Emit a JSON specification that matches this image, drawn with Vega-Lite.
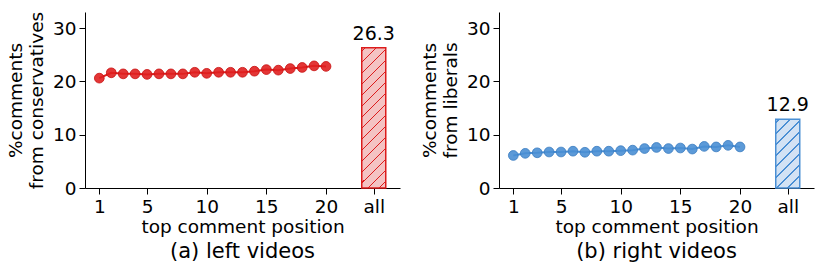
{
  "$schema": "https://vega.github.io/schema/vega-lite/v6.json",
  "autosize": {"type": "pad"},
  "padding": {"left": 6, "top": 11, "right": 5, "bottom": 0},
  "background": "white",
  "bounds": "flush",
  "spacing": 99,
  "config": {
    "font": "DejaVu Sans",
    "view": {"stroke": null},
    "axis": {
      "grid": false,
      "domainColor": "#000000",
      "tickColor": "#000000",
      "labelColor": "#000000",
      "titleColor": "#000000",
      "labelFont": "DejaVu Sans",
      "titleFont": "DejaVu Sans",
      "labelFontSize": 18.5,
      "titleFontSize": 18.5,
      "titleFontWeight": "normal",
      "tickSize": 6,
      "tickWidth": 1,
      "domainWidth": 1,
      "labelPadding": 3
    },
    "axisX": {"titlePadding": 2, "labelAngle": 0},
    "axisY": {"titlePadding": 6, "titleLineHeight": 21},
    "title": {"fontSize": 21, "fontWeight": "normal", "color": "#000000", "orient": "bottom", "offset": 5, "font": "DejaVu Sans"}
  },
  "hconcat": [
    {
      "width": 315,
      "height": 176,
      "title": {"text": "(a) left videos"},
      "data": {"values": [
        {"pos": 1, "value": 20.6, "series": "top"},
        {"pos": 2, "value": 21.6, "series": "top"},
        {"pos": 3, "value": 21.4, "series": "top"},
        {"pos": 4, "value": 21.4, "series": "top"},
        {"pos": 5, "value": 21.3, "series": "top"},
        {"pos": 6, "value": 21.4, "series": "top"},
        {"pos": 7, "value": 21.4, "series": "top"},
        {"pos": 8, "value": 21.4, "series": "top"},
        {"pos": 9, "value": 21.7, "series": "top"},
        {"pos": 10, "value": 21.5, "series": "top"},
        {"pos": 11, "value": 21.7, "series": "top"},
        {"pos": 12, "value": 21.7, "series": "top"},
        {"pos": 13, "value": 21.7, "series": "top"},
        {"pos": 14, "value": 21.9, "series": "top"},
        {"pos": 15, "value": 22.2, "series": "top"},
        {"pos": 16, "value": 22.1, "series": "top"},
        {"pos": 17, "value": 22.4, "series": "top"},
        {"pos": 18, "value": 22.6, "series": "top"},
        {"pos": 19, "value": 22.9, "series": "top"},
        {"pos": 20, "value": 22.8, "series": "top"},
        {"pos": 24, "value": 26.3, "series": "all"}
      ]},
      "encoding": {
        "x": {"field": "pos", "type": "quantitative",
              "scale": {"domain": [-0.2, 26.2], "nice": false, "zero": false, "padding": 0},
              "axis": {"values": [1, 5, 10, 15, 20, 24], "labelExpr": "datum.value == 24 ? 'all' : datum.label", "title": "top comment position", "labelFlush": false, "labelOverlap": false}},
        "y": {"field": "value", "type": "quantitative",
              "scale": {"domain": [0, 33], "nice": false, "padding": 0},
              "axis": {"values": [0, 10, 20, 30], "title": ["%comments", "from conservatives"]}}
      },
      "layer": [
        {"transform": [{"filter": "datum.series == 'top'"}],
         "mark": {"type": "line", "color": "#dc1c1c", "strokeWidth": 2}},
        {"transform": [{"filter": "datum.series == 'top'"}],
         "mark": {"type": "point", "filled": true, "size": 95, "fill": "#e02020", "fillOpacity": 0.9, "stroke": "#c81010", "strokeWidth": 1, "strokeOpacity": 0.8}},
        {"transform": [{"filter": "datum.series == 'all'"}],
         "mark": {"type": "bar", "orient": "vertical", "width": 24, "stroke": "#dc1c1c", "strokeWidth": 1.5,
                  "fill": {"gradient": "linear", "x1": 0, "y1": 0, "x2": 0.1946, "y2": 1.1378, "stops": [
                    {"offset": 0, "color": "#f4c3c3"},
                    {"offset": 0.0155, "color": "#f4c3c3"}, {"offset": 0.0155, "color": "#dc1c1c"}, {"offset": 0.0245, "color": "#dc1c1c"}, {"offset": 0.0245, "color": "#f4c3c3"},
                    {"offset": 0.0825, "color": "#f4c3c3"}, {"offset": 0.0825, "color": "#dc1c1c"}, {"offset": 0.0915, "color": "#dc1c1c"}, {"offset": 0.0915, "color": "#f4c3c3"},
                    {"offset": 0.1494, "color": "#f4c3c3"}, {"offset": 0.1494, "color": "#dc1c1c"}, {"offset": 0.1584, "color": "#dc1c1c"}, {"offset": 0.1584, "color": "#f4c3c3"},
                    {"offset": 0.2164, "color": "#f4c3c3"}, {"offset": 0.2164, "color": "#dc1c1c"}, {"offset": 0.2254, "color": "#dc1c1c"}, {"offset": 0.2254, "color": "#f4c3c3"},
                    {"offset": 0.2833, "color": "#f4c3c3"}, {"offset": 0.2833, "color": "#dc1c1c"}, {"offset": 0.2923, "color": "#dc1c1c"}, {"offset": 0.2923, "color": "#f4c3c3"},
                    {"offset": 0.3503, "color": "#f4c3c3"}, {"offset": 0.3503, "color": "#dc1c1c"}, {"offset": 0.3593, "color": "#dc1c1c"}, {"offset": 0.3593, "color": "#f4c3c3"},
                    {"offset": 0.4172, "color": "#f4c3c3"}, {"offset": 0.4172, "color": "#dc1c1c"}, {"offset": 0.4262, "color": "#dc1c1c"}, {"offset": 0.4262, "color": "#f4c3c3"},
                    {"offset": 0.4842, "color": "#f4c3c3"}, {"offset": 0.4842, "color": "#dc1c1c"}, {"offset": 0.4932, "color": "#dc1c1c"}, {"offset": 0.4932, "color": "#f4c3c3"},
                    {"offset": 0.5511, "color": "#f4c3c3"}, {"offset": 0.5511, "color": "#dc1c1c"}, {"offset": 0.5601, "color": "#dc1c1c"}, {"offset": 0.5601, "color": "#f4c3c3"},
                    {"offset": 0.6181, "color": "#f4c3c3"}, {"offset": 0.6181, "color": "#dc1c1c"}, {"offset": 0.6271, "color": "#dc1c1c"}, {"offset": 0.6271, "color": "#f4c3c3"},
                    {"offset": 0.6850, "color": "#f4c3c3"}, {"offset": 0.6850, "color": "#dc1c1c"}, {"offset": 0.6940, "color": "#dc1c1c"}, {"offset": 0.6940, "color": "#f4c3c3"},
                    {"offset": 0.7520, "color": "#f4c3c3"}, {"offset": 0.7520, "color": "#dc1c1c"}, {"offset": 0.7610, "color": "#dc1c1c"}, {"offset": 0.7610, "color": "#f4c3c3"},
                    {"offset": 0.8189, "color": "#f4c3c3"}, {"offset": 0.8189, "color": "#dc1c1c"}, {"offset": 0.8279, "color": "#dc1c1c"}, {"offset": 0.8279, "color": "#f4c3c3"},
                    {"offset": 0.8859, "color": "#f4c3c3"}, {"offset": 0.8859, "color": "#dc1c1c"}, {"offset": 0.8949, "color": "#dc1c1c"}, {"offset": 0.8949, "color": "#f4c3c3"},
                    {"offset": 0.9528, "color": "#f4c3c3"}, {"offset": 0.9528, "color": "#dc1c1c"}, {"offset": 0.9618, "color": "#dc1c1c"}, {"offset": 0.9618, "color": "#f4c3c3"},
                    {"offset": 1, "color": "#f4c3c3"}
                  ]}}},
        {"transform": [{"filter": "datum.series == 'all'"}],
         "mark": {"type": "text", "dy": -8, "baseline": "alphabetic", "fontSize": 19, "color": "#000000"},
         "encoding": {"text": {"field": "value", "type": "quantitative", "format": ".1f"}}}
      ]
    },
    {
      "width": 315,
      "height": 176,
      "title": {"text": "(b) right videos"},
      "data": {"values": [
        {"pos": 1, "value": 6.1, "series": "top"},
        {"pos": 2, "value": 6.5, "series": "top"},
        {"pos": 3, "value": 6.6, "series": "top"},
        {"pos": 4, "value": 6.75, "series": "top"},
        {"pos": 5, "value": 6.75, "series": "top"},
        {"pos": 6, "value": 6.9, "series": "top"},
        {"pos": 7, "value": 6.7, "series": "top"},
        {"pos": 8, "value": 6.9, "series": "top"},
        {"pos": 9, "value": 6.9, "series": "top"},
        {"pos": 10, "value": 7.0, "series": "top"},
        {"pos": 11, "value": 7.1, "series": "top"},
        {"pos": 12, "value": 7.4, "series": "top"},
        {"pos": 13, "value": 7.6, "series": "top"},
        {"pos": 14, "value": 7.4, "series": "top"},
        {"pos": 15, "value": 7.5, "series": "top"},
        {"pos": 16, "value": 7.3, "series": "top"},
        {"pos": 17, "value": 7.8, "series": "top"},
        {"pos": 18, "value": 7.7, "series": "top"},
        {"pos": 19, "value": 8.0, "series": "top"},
        {"pos": 20, "value": 7.7, "series": "top"},
        {"pos": 24, "value": 12.9, "series": "all"}
      ]},
      "encoding": {
        "x": {"field": "pos", "type": "quantitative",
              "scale": {"domain": [-0.2, 26.2], "nice": false, "zero": false, "padding": 0},
              "axis": {"values": [1, 5, 10, 15, 20, 24], "labelExpr": "datum.value == 24 ? 'all' : datum.label", "title": "top comment position", "labelFlush": false, "labelOverlap": false}},
        "y": {"field": "value", "type": "quantitative",
              "scale": {"domain": [0, 33], "nice": false, "padding": 0},
              "axis": {"values": [0, 10, 20, 30], "title": ["%comments", "from liberals"]}}
      },
      "layer": [
        {"transform": [{"filter": "datum.series == 'top'"}],
         "mark": {"type": "line", "color": "#4a8fd4", "strokeWidth": 2}},
        {"transform": [{"filter": "datum.series == 'top'"}],
         "mark": {"type": "point", "filled": true, "size": 95, "fill": "#4a8fd4", "fillOpacity": 0.9, "stroke": "#3a7cc0", "strokeWidth": 1, "strokeOpacity": 0.8}},
        {"transform": [{"filter": "datum.series == 'all'"}],
         "mark": {"type": "bar", "orient": "vertical", "width": 24, "stroke": "#4a8fd4", "strokeWidth": 1.5,
                  "fill": {"gradient": "linear", "x1": 0, "y1": 0, "x2": 0.4195, "y2": 1.2026, "stops": [
                    {"offset": 0, "color": "#d2e2f4"},
                    {"offset": 0.0322, "color": "#d2e2f4"}, {"offset": 0.0322, "color": "#4a8fd4"}, {"offset": 0.0478, "color": "#4a8fd4"}, {"offset": 0.0478, "color": "#d2e2f4"},
                    {"offset": 0.1507, "color": "#d2e2f4"}, {"offset": 0.1507, "color": "#4a8fd4"}, {"offset": 0.1663, "color": "#4a8fd4"}, {"offset": 0.1663, "color": "#d2e2f4"},
                    {"offset": 0.2692, "color": "#d2e2f4"}, {"offset": 0.2692, "color": "#4a8fd4"}, {"offset": 0.2848, "color": "#4a8fd4"}, {"offset": 0.2848, "color": "#d2e2f4"},
                    {"offset": 0.3877, "color": "#d2e2f4"}, {"offset": 0.3877, "color": "#4a8fd4"}, {"offset": 0.4033, "color": "#4a8fd4"}, {"offset": 0.4033, "color": "#d2e2f4"},
                    {"offset": 0.5062, "color": "#d2e2f4"}, {"offset": 0.5062, "color": "#4a8fd4"}, {"offset": 0.5218, "color": "#4a8fd4"}, {"offset": 0.5218, "color": "#d2e2f4"},
                    {"offset": 0.6247, "color": "#d2e2f4"}, {"offset": 0.6247, "color": "#4a8fd4"}, {"offset": 0.6403, "color": "#4a8fd4"}, {"offset": 0.6403, "color": "#d2e2f4"},
                    {"offset": 0.7432, "color": "#d2e2f4"}, {"offset": 0.7432, "color": "#4a8fd4"}, {"offset": 0.7588, "color": "#4a8fd4"}, {"offset": 0.7588, "color": "#d2e2f4"},
                    {"offset": 0.8617, "color": "#d2e2f4"}, {"offset": 0.8617, "color": "#4a8fd4"}, {"offset": 0.8773, "color": "#4a8fd4"}, {"offset": 0.8773, "color": "#d2e2f4"},
                    {"offset": 0.9802, "color": "#d2e2f4"}, {"offset": 0.9802, "color": "#4a8fd4"}, {"offset": 0.9958, "color": "#4a8fd4"}, {"offset": 0.9958, "color": "#d2e2f4"},
                    {"offset": 1, "color": "#d2e2f4"}
                  ]}}},
        {"transform": [{"filter": "datum.series == 'all'"}],
         "mark": {"type": "text", "dy": -8, "baseline": "alphabetic", "fontSize": 19, "color": "#000000"},
         "encoding": {"text": {"field": "value", "type": "quantitative", "format": ".1f"}}}
      ]
    }
  ]
}
